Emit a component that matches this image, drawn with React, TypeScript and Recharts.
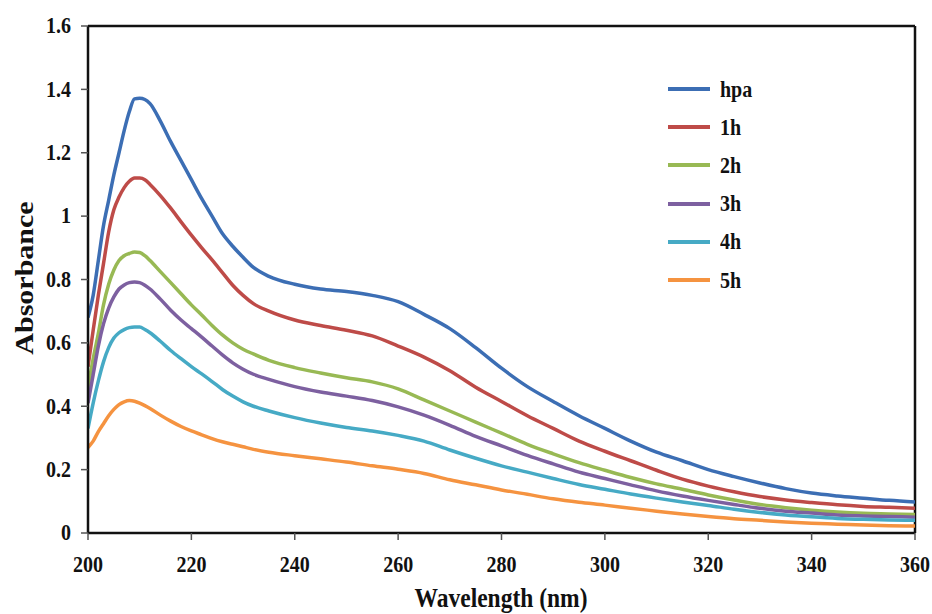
import { LineChart, Line, XAxis, YAxis, Legend, ReferenceLine } from 'recharts';

// wavelength (nm) sample points
const wavelengths = [
    200, 201, 202, 203, 204, 205, 206, 207, 208, 209, 210, 211, 212,
    214, 216, 218, 220, 222, 224, 226, 228, 230, 232,
    235, 240, 245, 250, 255, 260, 265, 270, 275, 280, 285, 290, 295, 300,
    305, 310, 315, 320, 325, 330, 335, 340, 345, 350, 355, 360,
];

const hpa = [
    0.68, 0.75, 0.86, 0.97, 1.05, 1.13, 1.2, 1.27, 1.33, 1.37, 1.372, 1.368, 1.355,
    1.3, 1.235, 1.175, 1.115, 1.055, 1.0, 0.945, 0.905, 0.87, 0.838,
    0.81, 0.785, 0.77, 0.762, 0.75, 0.73, 0.69, 0.645, 0.585, 0.52, 0.462, 0.415, 0.37, 0.33,
    0.29, 0.255, 0.228, 0.2, 0.178, 0.158, 0.14, 0.126, 0.117, 0.11, 0.103, 0.098,
];

const h1 = [
    0.525, 0.64, 0.75, 0.85, 0.95, 1.02, 1.06, 1.09, 1.11, 1.12, 1.12, 1.115, 1.1,
    1.065, 1.025, 0.982, 0.94, 0.9, 0.862, 0.822, 0.782, 0.75, 0.724,
    0.7, 0.672, 0.655, 0.64, 0.622, 0.59, 0.555, 0.512, 0.46, 0.415, 0.37, 0.33, 0.29, 0.258,
    0.228, 0.198, 0.17, 0.148, 0.13, 0.115, 0.104, 0.096, 0.089, 0.084, 0.081, 0.078,
];

const h2 = [
    0.46, 0.55, 0.63, 0.72, 0.785, 0.83, 0.86, 0.875, 0.882, 0.887, 0.885, 0.875, 0.86,
    0.825, 0.79, 0.755, 0.72, 0.688, 0.655, 0.625, 0.6, 0.58, 0.565,
    0.545, 0.522, 0.505, 0.49, 0.477, 0.455, 0.42, 0.385, 0.35, 0.315, 0.28, 0.25, 0.222, 0.198,
    0.175, 0.155, 0.138, 0.12, 0.104, 0.09, 0.08, 0.072, 0.066, 0.062, 0.06, 0.058,
];

const h3 = [
    0.41, 0.5, 0.59, 0.66, 0.71, 0.745, 0.77, 0.783, 0.79, 0.792, 0.79, 0.782, 0.77,
    0.738, 0.703, 0.672, 0.645, 0.618, 0.59, 0.562, 0.537, 0.517, 0.501,
    0.485, 0.462, 0.445, 0.432, 0.418, 0.398, 0.372, 0.34, 0.305, 0.275, 0.245, 0.218, 0.192, 0.172,
    0.152, 0.133, 0.117, 0.103, 0.09, 0.078, 0.069, 0.063, 0.057, 0.054, 0.052, 0.05,
];

const h4 = [
    0.33, 0.41, 0.48, 0.54, 0.585, 0.615, 0.632, 0.642, 0.648, 0.65, 0.65, 0.642, 0.632,
    0.605, 0.576, 0.55, 0.525, 0.502, 0.478, 0.453, 0.432, 0.414, 0.4,
    0.385, 0.364, 0.347, 0.333, 0.322, 0.308, 0.29, 0.262, 0.236, 0.212, 0.192, 0.172, 0.153, 0.138,
    0.123, 0.11, 0.098, 0.087, 0.075, 0.065, 0.057, 0.051, 0.046, 0.043, 0.041, 0.04,
];

const h5 = [
    0.27, 0.29, 0.32, 0.345, 0.37, 0.39, 0.405, 0.414, 0.418, 0.416, 0.41, 0.402, 0.393,
    0.372, 0.353, 0.336, 0.322, 0.31, 0.298, 0.288, 0.28, 0.272, 0.264,
    0.255, 0.244, 0.234, 0.224, 0.212, 0.201, 0.188, 0.168, 0.152, 0.136, 0.122, 0.108, 0.097, 0.088,
    0.078, 0.069, 0.06, 0.052, 0.045, 0.04, 0.035, 0.031, 0.028, 0.025, 0.023, 0.022,
];

const seriesNames = ['hpa', '1h', '2h', '3h', '4h', '5h'];
const seriesValues = [hpa, h1, h2, h3, h4, h5];
const seriesColors = ['#3c6eb4', '#be4b48', '#98b954', '#7d60a0', '#46aac5', '#f59340'];

const xTicks = [200, 220, 240, 260, 280, 300, 320, 340, 360];
const yTicks = [0, 0.2, 0.4, 0.6, 0.8, 1, 1.2, 1.4, 1.6];

const data = wavelengths.map((wl, i) => {
    const row: Record<string, number> = { wl };
    seriesNames.forEach((name, s) => {
        row[name] = seriesValues[s][i];
    });
    return row;
});

const FONT = '"Liberation Serif", "Times New Roman", serif';

const XTick = ({ x, y, payload }: any) => (
    <g transform={`translate(${x},${y})`}>
        <text transform="scale(1,1.15)" textAnchor="middle" dy={26} fontFamily={FONT}
            fontWeight="bold" fontSize={20} fill="#111">
            {payload.value}
        </text>
    </g>
);

const YTick = ({ x, y, payload }: any) => (
    <g transform={`translate(${x},${y})`}>
        <text transform="scale(1,1.12)" textAnchor="end" dx={-8} dy={6.5} fontFamily={FONT}
            fontWeight="bold" fontSize={20} fill="#111">
            {payload.value}
        </text>
    </g>
);

const XTitle = () => (
    <g transform="translate(501,607)">
        <text transform="scale(1,1.17)" textAnchor="middle" fontFamily={FONT}
            fontWeight="bold" fontSize={23.5} fill="#111">
            Wavelength (nm)
        </text>
    </g>
);

const YTitle = () => (
    <g transform="translate(24,278) rotate(-90)">
        <text transform="scale(1.2,1)" textAnchor="middle" dy={9} fontFamily={FONT}
            fontWeight="bold" fontSize={25} fill="#111">
            Absorbance
        </text>
    </g>
);

// keep legend rows in series order (recharts sorts the payload by name)
const LegendBox = ({ payload }: any) => {
    const items = [...(payload || [])].sort(
        (a: any, b: any) => seriesNames.indexOf(a.value) - seriesNames.indexOf(b.value));
    return (
        <div style={{ position: 'relative', width: 130, height: 240 }}>
            {items.map((entry: any, i: number) => (
                <div key={entry.value} style={{
                    position: 'absolute', left: 0, top: i * 38.2, height: 24,
                    display: 'flex', alignItems: 'center',
                }}>
                    <span style={{ display: 'inline-block', width: 42, height: 4, background: entry.color }} />
                    <span style={{
                        marginLeft: 10, fontFamily: FONT, fontWeight: 'bold', fontSize: 20,
                        color: '#111', display: 'inline-block', transform: 'scaleY(1.15)',
                    }}>
                        {entry.value}
                    </span>
                </div>
            ))}
        </div>
    );
};

export default function App() {
    return (
        <div style={{ position: 'absolute', left: 0, top: 0, background: '#fff' }}>
            <LineChart width={932} height={614} data={data}
                margin={{ top: 26, right: 17, bottom: 0, left: 0 }}>
                <XAxis dataKey="wl" type="number" domain={[200, 360]} ticks={xTicks}
                    allowDataOverflow tick={<XTick />} tickSize={7}
                    axisLine={{ stroke: '#111', strokeWidth: 2.5 }}
                    tickLine={{ stroke: '#555', strokeWidth: 1.5 }} height={81}
                    label={<XTitle />} />
                <YAxis type="number" domain={[0, 1.6]} ticks={yTicks} allowDataOverflow
                    tick={<YTick />} tickSize={7} width={88}
                    axisLine={{ stroke: '#111', strokeWidth: 2.5 }}
                    tickLine={{ stroke: '#555', strokeWidth: 1.5 }}
                    label={<YTitle />} />
                {/* top and right borders of the plot frame */}
                <ReferenceLine y={1.6} stroke="#111" strokeWidth={2.5} ifOverflow="visible" />
                <ReferenceLine x={360} stroke="#111" strokeWidth={2.5} ifOverflow="visible" />
                {seriesNames.map((name, s) => (
                    <Line key={name} type="monotone" dataKey={name} name={name}
                        stroke={seriesColors[s]} strokeWidth={3.5} dot={false}
                        isAnimationActive={false} />
                ))}
                <Legend layout="vertical" align="center" verticalAlign="middle"
                    content={<LegendBox />}
                    wrapperStyle={{ position: 'absolute', left: 668, top: 77, width: 130 }} />
            </LineChart>
        </div>
    );
}
